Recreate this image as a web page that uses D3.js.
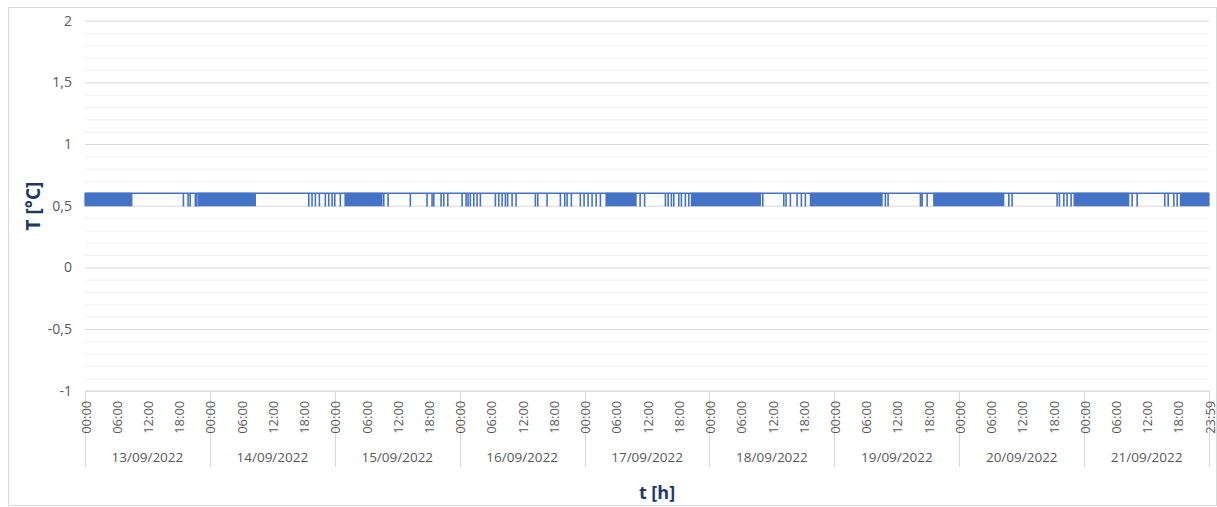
<!DOCTYPE html>
<html>
<head>
<meta charset="utf-8">
<title>T [°C]</title>
<script src="https://cdn.jsdelivr.net/npm/d3@7"></script>
<style>
  body { margin: 0; background: #fff; }
  svg { display: block; font-family: "Open Sans", sans-serif; }
  .tick text { fill: #595959; font-size: 13.5px; font-family: "Open Sans", sans-serif; }
  .yaxis .tick text { font-size: 14px; }
  .hours .tick text { font-size: 13px; }
  .title { fill: #203864; font-weight: bold; font-family: "Open Sans", sans-serif; }
</style>
</head>
<body>
<script>
// data (hours since 13/09/2022 00:00)
var dates = ["13/09/2022", "14/09/2022", "15/09/2022", "16/09/2022", "17/09/2022",
             "18/09/2022", "19/09/2022", "20/09/2022", "21/09/2022"];
var hourTicks = [0, 6, 12, 18, 24, 30, 36, 42, 48, 54, 60, 66, 72, 78, 84, 90, 96, 102,
                 108, 114, 120, 126, 132, 138, 144, 150, 156, 162, 168, 174, 180, 186,
                 192, 198, 204, 210, 215.983];
var hourLabels = ["00:00", "06:00", "12:00", "18:00"];
var lastLabel = "23:59";
var yTicks = [-1, -0.5, 0, 0.5, 1, 1.5, 2];
var yMinor = [-0.9, -0.8, -0.7, -0.6, -0.4, -0.3, -0.2, -0.1, 0.1, 0.2, 0.3, 0.4,
              0.6, 0.7, 0.8, 0.9, 1.1, 1.2, 1.3, 1.4, 1.6, 1.7, 1.8, 1.9];

// reading sits at 0.6, drops to 0.5
var high = 0.6;
var low = 0.5;
// periods where the reading flickers between 0.5 and 0.6 every sample
var flickerFrom = [0, 21.85, 49.96, 100.12, 116.51, 139.38, 163.10, 190.06, 210.48];
var flickerTo   = [9.0, 32.73, 57.07, 105.89, 129.77, 153.16, 176.55, 200.57, 215.983];
// single readings at 0.5
var dips = [18.9, 19.8, 20.2, 21.2, 21.5,
            42.99, 43.62, 44.26, 45.03, 46.18, 46.83, 47.47, 47.99, 49.06,
            57.40, 58.23, 62.51, 65.72, 66.68, 67.01, 68.41, 68.93, 69.70,
            72.45, 73.22, 73.60, 74.04, 74.70, 75.33, 75.97,
            78.85, 79.50, 80.14, 80.77, 81.20, 82.06, 82.82, 86.53, 86.99, 88.78,
            91.34, 92.18, 92.63, 93.45, 95.18, 95.89, 96.66, 97.43, 98.20, 99.03,
            106.66, 107.52, 111.52, 112.04, 112.67, 113.13, 114.09, 114.59, 115.36, 116.01,
            130.23, 134.27, 134.71, 135.54, 136.82, 137.65, 138.42,
            153.79, 154.31, 160.52, 160.85, 161.81, 177.51, 178.14,
            186.79, 187.23, 188.08, 188.71, 189.48, 201.20, 202.17,
            207.49, 208.13, 209.22, 209.86];
var endHour = 215.983;

// canvas
var canvasX = 1217;
var canvasY = 507;
var plotLeft = 85, plotRight = 1209, plotTop = 20.7, plotBottom = 390.7;
var blue = "#4472C4";

var svg = d3.select("body").append("svg")
    .attr("width", canvasX)
    .attr("height", canvasY);

// chart border
svg.append("rect")
    .attr("x", 8.5).attr("y", 7.5)
    .attr("width", 1208).attr("height", 498)
    .attr("fill", "#fff")
    .attr("stroke", "#d9d9d9");

// scales
var x = d3.scaleLinear().domain([0, endHour]).range([plotLeft, plotRight]);
var y = d3.scaleLinear().domain([-1, 2]).range([plotBottom, plotTop]);
var xDay = d3.scaleBand().domain(dates).range([x(0), x(216)]);

// minor gridlines
svg.append("g")
    .attr("transform", "translate(" + plotLeft + ",0)")
    .call(d3.axisLeft(y).tickValues(yMinor).tickSize(-(plotRight - plotLeft)).tickFormat(""))
    .call(g => g.select(".domain").remove())
    .call(g => g.selectAll("line").attr("stroke", "#f2f2f2"));

// major gridlines + labels
svg.append("g")
    .attr("class", "yaxis")
    .attr("transform", "translate(" + plotLeft + ",0)")
    .call(d3.axisLeft(y).tickValues(yTicks).tickSize(-(plotRight - plotLeft)).tickPadding(13)
        .tickFormat(d => String(d).replace(".", ",")))
    .call(g => g.select(".domain").remove())
    .call(g => g.selectAll("line").attr("stroke", "#d9d9d9"));

// day separators
svg.append("g").selectAll("line")
    .data(d3.range(dates.length + 1))
    .enter().append("line")
    .attr("x1", d => Math.round(xDay.step() * d + x(0)) + 0.5)
    .attr("x2", d => Math.round(xDay.step() * d + x(0)) + 0.5)
    .attr("y1", plotBottom)
    .attr("y2", 467)
    .attr("stroke", "#d9d9d9");

// hour axis
svg.append("g")
    .attr("class", "hours")
    .attr("transform", "translate(0," + plotBottom + ")")
    .call(d3.axisBottom(x).tickValues(hourTicks).tickSize(0)
        .tickFormat((d, i) => i == hourTicks.length - 1 ? lastLabel : hourLabels[i % 4]))
    .call(g => g.select(".domain").attr("stroke", "#d9d9d9"))
    .call(g => g.selectAll("text")
        .attr("transform", "rotate(-90)")
        .attr("text-anchor", "end")
        .attr("x", -10)
        .attr("y", 0.5)
        .attr("dy", "0.35em"));

// date axis
svg.append("g")
    .attr("transform", "translate(0," + 457 + ")")
    .call(d3.axisBottom(xDay).tickSize(0).tickPadding(0))
    .call(g => g.select(".domain").remove())
    .call(g => g.selectAll("text").attr("y", 0).attr("dy", "0.35em"));

// flicker periods
svg.append("g").selectAll("rect")
    .data(flickerFrom)
    .enter().append("rect")
    .attr("x", (d, i) => x(d))
    .attr("y", y(high))
    .attr("width", (d, i) => x(flickerTo[i]) - x(d))
    .attr("height", y(low) - y(high))
    .attr("fill", blue)
    .attr("stroke", blue)
    .attr("stroke-width", 1.2);

// the line with its single dips
var series = [[0, high]];
dips.forEach(function(t) {
    series.push([t, high], [t, low], [t + 1 / 60, low], [t + 1 / 60, high]);
});
series.push([endHour, high]);

svg.append("path")
    .datum(series)
    .attr("fill", "none")
    .attr("stroke", blue)
    .attr("stroke-width", 1.5)
    .attr("d", d3.line().x(d => x(d[0])).y(d => y(d[1])));

// axis titles
svg.append("text")
    .attr("class", "title")
    .attr("transform", "translate(33,206) rotate(-90)")
    .attr("text-anchor", "middle")
    .attr("dy", "0.35em")
    .style("font-size", "19px")
    .text("T [°C]");

svg.append("text")
    .attr("class", "title")
    .attr("x", 657)
    .attr("y", 493)
    .attr("text-anchor", "middle")
    .attr("dy", "0.35em")
    .style("font-size", "18px")
    .text("t [h]");
</script>
</body>
</html>
